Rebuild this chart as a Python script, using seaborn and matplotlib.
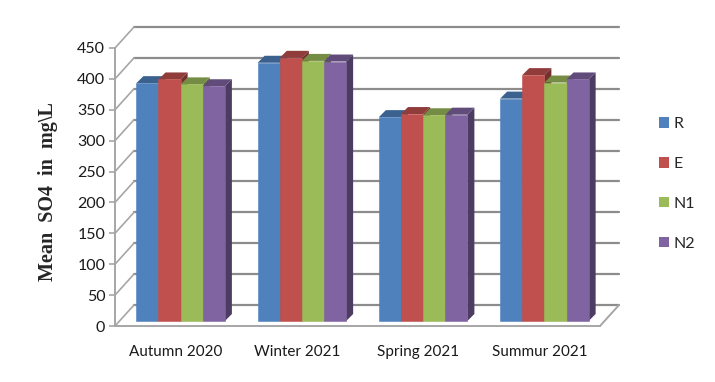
import pandas as pd
import matplotlib
matplotlib.use("Agg")
import matplotlib.pyplot as plt
import matplotlib.transforms as mtransforms
from matplotlib.patches import Polygon, Patch
import numpy as np
import seaborn as sns

# Data
seasons = ["Autumn 2020", "Winter 2021", "Spring 2021", "Summur 2021"]
sites = ["R", "E", "N1", "N2"]
r_vals = [385, 418, 330, 360]
e_vals = [391, 426, 335, 398]
n1_vals = [383, 421, 333, 386]
n2_vals = [380, 420, 334, 391]
y_ticks = list(range(0, 451, 50))

colors = ["#4F81BD", "#C0504D", "#9BBB59", "#8064A2"]

df = pd.DataFrame({
    "Season": seasons * 4,
    "Site": np.repeat(sites, len(seasons)),
    "SO4": r_vals + e_vals + n1_vals + n2_vals,
})

sns.set_theme(style="white")
plt.rcParams["font.family"] = ["Lato", "DejaVu Sans"]

DPI = 100
fig = plt.figure(figsize=(7.15, 3.82), dpi=DPI)
W, H = 715, 382
ax = fig.add_axes([115 / W, 1 - 326 / H, (600 - 115) / W, (326 - 48) / H])

sns.barplot(data=df, x="Season", y="SO4", hue="Site", palette=colors,
            width=0.73, saturation=1, linewidth=0, ax=ax, legend=False, zorder=3)

ax.set_xlim(-0.5, 3.5)
ax.set_ylim(0, 450)
ax.set_yticks(y_ticks)
ax.set_xlabel("")
ax.set_ylabel("")

grid_col = "#8c8c8c"
wall_col = "#a6a6a6"

# back-wall offset (px) and bar offsets
bx, by = 19, 21
fx, fy = 5, 5
depth = 7

shift_back = ax.transData + mtransforms.ScaledTranslation(bx / DPI, by / DPI, fig.dpi_scale_trans)
shift_bar = ax.transData + mtransforms.ScaledTranslation(fx / DPI, fy / DPI, fig.dpi_scale_trans)

# back wall gridlines
for v in y_ticks:
    ax.plot([-0.5, 3.5], [v, v], transform=shift_back, color=grid_col, lw=1.6,
            clip_on=False, zorder=0)

ident = mtransforms.IdentityTransform()
# left wall diagonals
for v in y_ticks:
    px, py = ax.transData.transform((-0.5, v))
    ax.add_line(plt.Line2D([px, px + bx], [py, py + by], transform=ident,
                           color=wall_col, lw=1.2, clip_on=False, zorder=0))
# floor right edge
px, py = ax.transData.transform((3.5, 0))
ax.add_line(plt.Line2D([px, px + bx], [py, py + by], transform=ident,
                       color=wall_col, lw=1.4, clip_on=False, zorder=0))


def shade(c, f):
    r, g, b = matplotlib.colors.to_rgb(c)
    return (r * f, g * f, b * f)


# 3D faces on the bars (each bar's front covers the side of the bar left of it)
for i, bar in enumerate(ax.patches):
    k = i // len(seasons)
    col = colors[k]
    bar.set_transform(shift_bar)
    bar.set_clip_on(False)
    bar.set_edgecolor(col)
    bar.set_linewidth(0.4)
    bar.set_zorder(3 + (2 * k + 1) * 0.01)
    x0, w, h = bar.get_x(), bar.get_width(), bar.get_height()
    (xl, yb), (xr, yt) = shift_bar.transform([(x0, 0), (x0 + w, h)])
    top = Polygon([(xl, yt), (xr, yt), (xr + depth, yt + depth), (xl + depth, yt + depth)],
                  closed=True, transform=ident, facecolor=shade(col, 0.75),
                  edgecolor="none", clip_on=False, zorder=3 + 2 * k * 0.01)
    side = Polygon([(xr, yb), (xr, yt), (xr + depth, yt + depth), (xr + depth, yb + depth)],
                   closed=True, transform=ident, facecolor=shade(col, 0.6),
                   edgecolor="none", clip_on=False, zorder=3 + 2 * k * 0.01)
    ax.add_patch(top)
    ax.add_patch(side)

# spines and ticks
for s in ["top", "right"]:
    ax.spines[s].set_visible(False)
for s in ["left", "bottom"]:
    ax.spines[s].set_color(wall_col)
    ax.spines[s].set_linewidth(1.4)
    ax.spines[s].set_zorder(1)

ax.set_xticks([-0.5, 0.5, 1.5, 2.5, 3.5], minor=True)
ax.tick_params(axis="x", which="major", length=0, pad=14, labelsize=11, labelcolor="#1a1a1a")
ax.tick_params(axis="x", which="minor", length=6, width=1.2, color=wall_col, direction="out")
ax.tick_params(axis="y", length=4, width=1.2, color=wall_col, direction="out",
               labelsize=11.5, labelcolor="#1a1a1a", pad=3, left=True)

fig.text(48 / W, 1 - 192 / H, "Mean  SO4  in  mg\\L", rotation=90, ha="center", va="center",
         fontsize=14.5, fontweight="bold", family=["Liberation Serif", "DejaVu Serif"])

handles = [Patch(facecolor=c, edgecolor="none", label=s) for c, s in zip(colors, sites)]
fig.legend(handles=handles, loc="center left", bbox_to_anchor=(653 / W, 1 - 184 / H),
           frameon=False, fontsize=11.5, handlelength=0.6, handleheight=0.6,
           handletextpad=0.3, labelspacing=1.62, borderaxespad=0)

fig.savefig("out.png", dpi=DPI, facecolor="white")
